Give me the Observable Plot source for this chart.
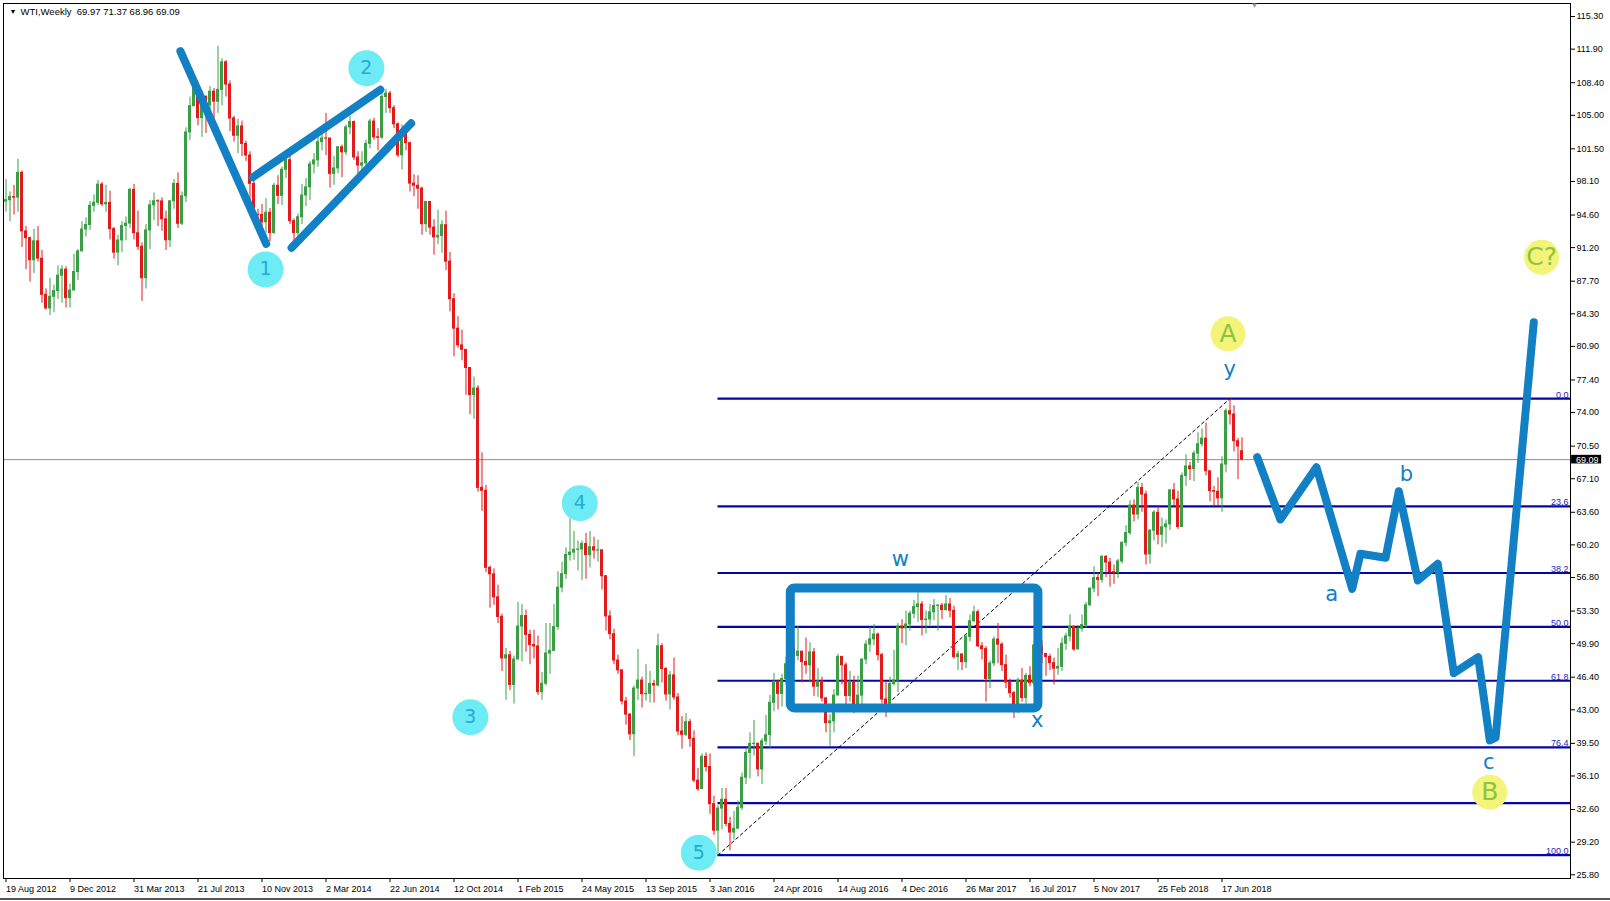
<!DOCTYPE html>
<html><head><meta charset="utf-8">
<script src="https://cdn.jsdelivr.net/npm/d3@7"></script>
<script src="https://cdn.jsdelivr.net/npm/@observablehq/plot@0.6"></script>
<style>
html,body{margin:0;padding:0;background:#fff;}
#wrap{position:relative;width:1610px;height:901px;overflow:hidden;background:#fff;}
#bottomline{position:absolute;left:0;top:898px;width:1610px;height:2px;background:#555;}
</style></head><body><div id="wrap"></div>
<script>
// ---- weekly WTI candles (bar 0 = week of 19 Aug 2012), close / high / low ----
const close2012 = [96.15,96.47,96.42,99.00,92.89,92.19,89.88,91.86,90.05,86.28,84.86,86.07,86.67,88.28,88.91,85.93,86.73,88.66,90.80];
const high2012  = [98.3,97.0,97.7,100.4,99.2,93.4,92.3,93.1,93.4,90.9,86.9,88.0,87.3,89.3,89.3,89.2,87.4,90.5,91.0];
const low2012   = [94.9,93.9,94.6,94.9,91.2,88.9,87.6,88.5,89.7,85.4,84.7,84.1,84.4,85.8,85.4,84.9,84.9,86.7,87.8];

const close2013 = [93.09,93.56,95.56,95.88,97.77,95.72,95.86,93.13,90.68,91.95,93.45,93.71,97.23,92.70,91.29,88.01,93.00,95.61,96.04,96.02,94.15,91.97,96.03,97.85,93.69,96.56,103.22,105.95,108.05,104.70,106.94,106.03,107.46,106.42,107.65,110.53,108.21,104.67,102.87,103.84,102.02,100.81,97.85,94.61,94.60,93.84,94.84,92.72,97.65,96.60,99.32,100.32];
const high2013  = [93.9,94.3,96.0,96.7,98.2,98.0,97.7,97.1,93.3,92.5,93.9,94.4,97.4,97.8,95.0,91.7,93.6,96.1,96.9,96.2,96.4,95.0,96.1,98.3,99.0,97.0,103.7,106.9,108.9,108.4,107.5,107.0,108.0,107.8,112.2,110.9,110.7,108.6,104.9,104.6,104.4,102.3,101.2,98.6,95.2,95.7,96.3,95.3,97.9,98.7,99.6,100.8];
const low2013   = [90.8,92.3,93.0,94.9,95.6,95.5,94.9,92.0,90.0,89.3,90.7,91.9,93.2,92.0,90.9,85.6,86.9,91.0,94.0,93.4,92.9,90.9,91.2,95.2,93.2,93.5,95.9,102.4,105.9,103.9,102.7,103.1,104.0,103.0,105.2,106.0,106.9,103.3,102.2,101.0,100.7,100.2,95.9,94.0,92.6,92.5,92.7,91.8,92.6,95.7,95.6,98.4];

const close2014 = [93.96,92.72,94.37,96.64,97.49,99.88,100.30,102.20,102.59,102.58,98.89,99.46,101.67,101.14,103.74,104.30,100.60,99.76,99.99,102.02,104.35,102.71,102.66,106.91,107.26,105.74,104.06,100.83,103.13,102.09,97.88,97.65,97.35,93.65,95.96,93.29,92.27,92.41,93.54,89.74,85.82,82.75,81.01,80.54,78.65,75.82,76.51,66.15,65.84,57.81,57.13,54.73];
const high2014  = [100.7,94.2,94.7,97.8,98.4,100.2,101.0,103.4,103.1,105.2,102.6,100.7,101.7,101.9,104.0,104.9,104.4,101.2,101.2,102.4,104.6,104.7,103.6,107.7,107.7,107.5,106.0,104.2,104.0,103.8,102.2,98.8,98.7,97.5,96.0,96.0,94.1,95.1,94.0,95.0,90.7,86.4,84.0,82.6,80.5,78.6,77.7,76.8,69.8,66.4,58.0,57.7];
const low2014   = [93.6,91.2,91.5,93.6,95.5,96.1,98.9,99.6,101.3,100.8,97.4,97.7,98.9,98.5,100.8,103.0,100.3,98.7,98.8,98.9,101.5,102.4,101.3,102.5,105.2,105.2,103.6,100.6,99.3,101.3,97.0,96.5,95.2,92.5,92.8,92.5,90.4,91.5,90.6,88.8,84.5,79.8,80.7,79.4,75.8,73.8,73.3,65.7,63.7,57.3,53.6,53.9];

const close2015 = [52.69,48.36,48.69,45.59,48.24,51.69,52.78,50.81,49.76,49.61,44.84,45.72,48.87,49.14,51.64,55.74,57.15,59.15,59.39,59.69,59.72,60.30,59.13,59.96,59.61,59.63,56.93,52.74,50.89,48.14,47.12,43.87,42.50,40.45,45.22,46.05,44.63,44.68,45.70,45.54,49.63,47.26,44.60,46.59,44.29,40.74,40.39,41.71,39.97,35.62,34.73,38.10];
const high2015  = [56.0,53.0,49.4,49.1,48.6,54.2,54.0,53.4,51.3,51.3,50.7,46.9,52.0,52.0,54.0,57.4,58.4,59.9,62.9,61.6,60.6,60.6,61.4,61.6,61.0,60.7,59.7,57.0,53.3,51.4,48.7,47.1,44.3,42.6,45.5,49.3,46.4,47.7,47.0,46.1,50.9,49.9,47.4,47.0,48.4,44.7,42.3,42.6,42.0,40.8,36.9,38.4];
const low2015   = [52.0,47.0,44.0,45.0,43.6,48.5,48.0,49.0,47.7,48.3,44.5,44.0,45.5,46.7,49.3,51.3,55.2,56.6,58.5,58.6,57.5,56.5,56.6,57.8,58.7,58.4,55.5,51.2,50.3,47.7,46.7,43.5,41.4,39.8,38.1,44.0,43.2,43.9,43.7,43.7,45.4,45.8,43.9,43.0,44.0,40.3,38.9,40.2,39.1,35.4,34.5,35.5];

const close2016 = [37.04,33.16,30.4,32.7,33.62,31.1,30.2,30.6,32.78,35.92,38.50,39.44,39.46,36.79,39.72,40.36,43.73,45.92,44.66,46.21,47.75,49.33,48.62,49.07,47.98,47.64,48.99,45.41,45.95,44.19,41.60,41.80,44.49,48.52,47.64,44.44,45.88,43.03,44.48,48.24,49.81,50.35,50.85,48.70,44.07,43.41,45.69,46.06,51.68,51.50,51.90,53.02,53.72];
const high2016  = [38.5,38.4,34.0,33.0,34.8,34.8,31.8,32.4,33.5,36.4,38.9,40.6,41.9,39.5,40.0,42.4,44.5,46.8,46.1,46.7,48.5,50.2,49.9,51.7,49.0,50.5,50.0,49.4,47.3,46.4,44.3,42.5,45.1,48.8,48.4,47.9,47.0,46.5,46.5,48.3,50.2,51.6,51.9,51.0,48.9,45.9,46.4,49.2,52.0,52.4,53.3,53.3,54.4];
const low2016   = [36.5,32.1,29.9,27.85,30.5,30.8,28.3,29.4,30.6,32.5,35.2,35.8,38.2,36.0,35.2,39.3,39.0,42.8,43.0,43.3,45.6,47.5,47.8,48.1,45.8,46.7,45.8,44.4,44.3,43.8,40.6,39.2,40.6,44.8,45.6,43.1,43.8,42.6,42.7,43.5,47.7,49.0,49.7,48.1,43.6,42.2,43.3,45.5,44.8,49.9,49.7,51.2,52.5];

const close2017 = [53.99,52.37,52.42,53.17,53.83,53.86,53.40,53.99,53.33,48.49,48.78,47.97,50.60,52.24,53.18,49.62,49.33,46.22,47.84,50.33,49.80,47.66,45.83,44.74,43.01,46.04,44.23,46.54,45.77,49.71,49.58,48.82,48.51,47.87,47.29,47.48,49.89,50.66,51.67,49.29,51.45,51.84,53.90,55.64,56.74,56.55,58.95,58.36,57.36,57.30,58.47,60.42];
const high2017  = [55.2,54.3,53.3,54.0,54.5,54.0,54.1,54.9,54.6,53.8,49.1,48.8,50.9,52.9,53.8,53.4,50.0,49.6,48.1,50.6,52.0,50.0,48.7,46.2,44.9,46.3,47.3,46.8,47.5,49.8,50.4,50.2,48.8,48.8,48.4,49.4,50.5,51.0,52.9,51.6,51.8,52.9,54.2,55.7,57.9,57.3,59.1,59.1,58.8,58.1,58.7,60.5];
const low2017   = [52.1,50.7,50.9,51.8,52.3,51.2,52.4,53.3,52.6,48.3,47.1,47.1,47.3,50.1,52.1,49.5,48.2,43.8,45.2,47.5,47.8,47.0,45.2,44.2,42.1,42.6,43.8,43.6,45.4,45.4,48.4,47.8,46.5,47.1,45.6,46.6,47.0,49.2,50.1,49.1,49.3,51.1,51.5,53.8,55.2,54.8,56.2,56.8,55.8,56.1,56.7,58.2];

const close2018 = [61.44,64.30,63.37,66.14,65.45,59.20,61.68,63.55,61.25,62.04,62.34,65.88,64.94,62.06,67.39,68.38,68.10,69.72,70.70,71.28,67.88,65.81,65.74,65.06,68.58,74.15,73.80,71.01,70.46,69.09];
const high2018  = [62.2,64.8,64.9,66.7,66.6,65.8,61.8,63.8,64.2,63.0,62.8,66.0,66.6,65.8,67.7,69.6,68.8,70.0,71.9,72.3,72.9,67.6,66.3,67.2,69.4,74.4,75.45,74.7,71.3,71.37];
const low2018   = [60.0,61.2,62.6,62.8,63.6,58.1,58.2,60.6,60.2,59.9,60.3,61.7,64.1,61.8,62.3,66.3,66.9,66.8,68.7,70.4,67.4,64.7,64.2,64.3,63.6,67.7,72.7,69.9,67.0,68.96];

const firstOpen = 96.01;
const header = ["WTI,Weekly", 69.97, 71.37, 68.96, 69.09]; // symbol, O H L C of last bar

// time axis labels (every 16 weekly bars)
const dateLabels = ["19 Aug 2012","9 Dec 2012","31 Mar 2013","21 Jul 2013","10 Nov 2013","2 Mar 2014","22 Jun 2014","12 Oct 2014","1 Feb 2015","24 May 2015","13 Sep 2015","3 Jan 2016","24 Apr 2016","14 Aug 2016","4 Dec 2016","26 Mar 2017","16 Jul 2017","5 Nov 2017","25 Feb 2018","17 Jun 2018"];
const labelStep = 16;
// price axis labels
const priceTicks = [25.80,29.20,32.60,36.10,39.50,43.00,46.40,49.90,53.30,56.80,60.20,63.60,67.10,70.50,74.00,77.40,80.90,84.30,87.70,91.20,94.60,98.10,101.50,105.00,108.40,111.90,115.30];

// Fibonacci retracement (from low bar 178 to high bar 306)
const fibStartBar = 178, fibEndBar = 306;
const fibLabels = ["0.0","23.6","38.2","50.0","61.8","76.4","","100.0"];
const fibPrices = [75.45,64.22,57.27,51.65,46.03,39.08,33.28,27.85];

// Elliott wave drawings (bar index, price)
const legBars   = [[43.6,65.05],[61.7,93.6],[71.4,101.3]];
const legPrices = [[111.68,91.60],[98.54,107.66],[91.18,104.17]];
const boxBars = [196.2,258.1], boxPrices = [43.15,55.66];
const projBars   = [312.8,318.6,327.6,336.55,338.6,344.9,348.2,352.95,357.95,361.95,368.05,370.95,372.4,381.95];
const projPrices = [69.35,62.85,68.30,55.62,59.27,58.86,65.80,56.49,58.23,46.82,48.49,39.80,40.09,83.42];

const waveNums = ["1","2","3","4","5"];
const waveNumBars = [64.9,90.1,116.1,143.45,173.2];
const waveNumPrices = [88.93,109.91,42.23,64.55,28.1];
const majorLabels = ["A","B","C?"];
const majorBars = [305.5,370.95,383.9];
const majorPrices = [82.21,34.41,90.2];
const minorLabels = ["w","x","y","a","b","c"];
const minorBars = [223.6,257.8,305.9,331.4,350.1,370.7];
const minorPrices = [58.75,41.89,78.47,55.03,67.54,37.54];

// ---- build ----
const closes = [...close2012,...close2013,...close2014,...close2015,...close2016,...close2017,...close2018];
const highs  = [...high2012,...high2013,...high2014,...high2015,...high2016,...high2017,...high2018];
const lows   = [...low2012,...low2013,...low2014,...low2015,...low2016,...low2017,...low2018];
const n = closes.length;
const bars = closes.map((c, i) => {
  const o = i === 0 ? firstOpen : (i === n - 1 ? header[1] : closes[i - 1]);
  return {i, o, c, h: highs[i], l: lows[i], up: c >= o};
});
const lastClose = header[4];

const GREEN = "#3b9e46", RED = "#e3191b", WAVE = "#1180c4", FIB = "#0606a6";
const CYAN = "#6decf5", CYANTXT = "#27a9d9", YEL = "#f4f37a", YELTXT = "#8cc43f";

const legs = [];
legBars.forEach((b, k) => { legs.push({k, i: b[0], p: legPrices[k][0]}); legs.push({k, i: b[1], p: legPrices[k][1]}); });
const proj = projBars.map((b, k) => ({i: b, p: projPrices[k]}));
const fibRows = fibPrices.map((p, k) => ({p, t: fibLabels[k]}));
const xEnd = 391.125;
const tickIdx = dateLabels.map((d, k) => k * labelStep);

const chart = Plot.plot({
  width: 1610, height: 901,
  marginTop: 3, marginBottom: 23, marginLeft: 3, marginRight: 40,
  style: {fontFamily: "'Liberation Sans', Arial, sans-serif", fontSize: "9px", color: "#000", background: "#fff"},
  x: {domain: [-0.625, xEnd]},
  y: {domain: [25.41, 116.66]},
  marks: [
    // current price line
    Plot.ruleY([lastClose], {stroke: "#8c8c8c", strokeWidth: 1}),
    // fibonacci levels
    Plot.ruleY(fibRows, {y: "p", x1: fibStartBar, x2: xEnd, stroke: FIB, strokeWidth: 2.2}),
    Plot.line([{i: fibStartBar, p: fibPrices[7]}, {i: fibEndBar, p: fibPrices[0]}], {x: "i", y: "p", stroke: "#000", strokeWidth: 1, strokeDasharray: "3,3"}),
    Plot.text(fibRows.filter(d => d.t), {x: xEnd, y: "p", text: "t", textAnchor: "end", lineAnchor: "bottom", dx: -2, dy: -1, fill: "#1c1cb8", fontSize: 9}),
    // candles
    Plot.ruleX(bars, {x: "i", y1: "l", y2: "h", stroke: d => d.up ? GREEN : RED, strokeWidth: 1}),
    Plot.rect(bars, {x1: d => d.i - 0.375, x2: d => d.i + 0.375, y1: d => Math.min(d.o, d.c), y2: d => Math.max(d.o, d.c), insetTop: -0.5, insetBottom: -0.5, fill: d => d.up ? GREEN : RED}),
    // Elliott drawings
    Plot.line(legs, {x: "i", y: "p", z: "k", stroke: WAVE, strokeWidth: 8, strokeLinecap: "round"}),
    Plot.rect([{x1: boxBars[0], x2: boxBars[1], y1: boxPrices[0], y2: boxPrices[1]}], {x1: "x1", x2: "x2", y1: "y1", y2: "y2", fill: "none", stroke: WAVE, strokeWidth: 9, rx: 4}),
    Plot.line(proj, {x: "i", y: "p", stroke: WAVE, strokeWidth: 8, strokeLinecap: "round", strokeLinejoin: "round"}),
    // wave count circles
    Plot.dot(waveNums, {x: (d, k) => waveNumBars[k], y: (d, k) => waveNumPrices[k], r: 18, fill: CYAN}),
    Plot.text(waveNums, {x: (d, k) => waveNumBars[k], y: (d, k) => waveNumPrices[k], text: d => d, fill: CYANTXT, fontSize: 19, fontFamily: "'DejaVu Sans', sans-serif"}),
    Plot.dot(majorLabels, {x: (d, k) => majorBars[k], y: (d, k) => majorPrices[k], r: 17.5, fill: YEL}),
    Plot.text(majorLabels, {x: (d, k) => majorBars[k], y: (d, k) => majorPrices[k], text: d => d, fill: YELTXT, fontSize: 25, fontFamily: "'DejaVu Sans', sans-serif"}),
    Plot.text(minorLabels, {x: (d, k) => minorBars[k], y: (d, k) => minorPrices[k], text: d => d, fill: WAVE, fontSize: 21, fontFamily: "'DejaVu Sans', sans-serif"}),
    // frame and axes
    Plot.frame({stroke: "#000"}),
    Plot.axisX({ticks: tickIdx, tickFormat: d => dateLabels[Math.round(d / labelStep)], textAnchor: "start", tickSize: 4, tickPadding: 3, label: null}),
    Plot.axisY({anchor: "right", ticks: priceTicks, tickFormat: d => d.toFixed(2), tickSize: 4, tickPadding: 2, label: null}),
    // current price label
    Plot.rect([lastClose], {x1: 391.4, x2: 398.9, y1: d => d - 0.45, y2: d => d + 0.45, fill: "#000"}),
    Plot.text([lastClose], {x: 392.5, y: d => d, text: d => d.toFixed(2), textAnchor: "start", fill: "#fff", fontSize: 9}),
    // header
    Plot.text(["\u25BC"], {frameAnchor: "top-left", dx: 6, dy: 6, fontSize: 7, fill: "#000"}),
    Plot.text([header[0] + "\u00a0\u00a0" + header.slice(1).map(v => v.toFixed(2)).join(" ")], {frameAnchor: "top-left", dx: 17, dy: 5, fontSize: 9.5, fill: "#000"}),
    Plot.text(["\u25BC"], {frameAnchor: "top-left", dx: 1247, dy: -1, fontSize: 8, fill: "#999"})
  ]
});
const wrap = document.getElementById("wrap");
wrap.appendChild(chart);
const bl = document.createElement("div"); bl.id = "bottomline"; wrap.appendChild(bl);
</script></body></html>
